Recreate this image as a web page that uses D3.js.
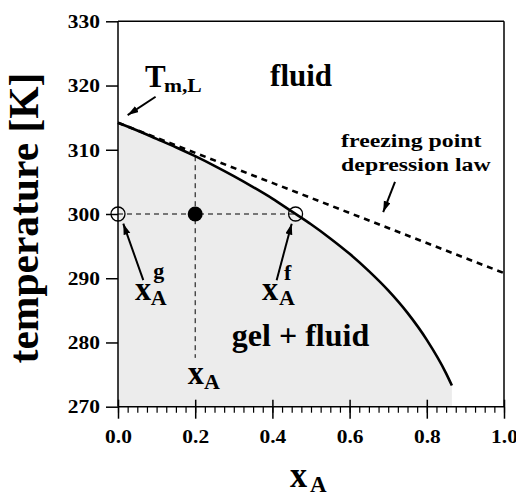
<!DOCTYPE html>
<html><head><meta charset="utf-8">
<script src="https://cdn.jsdelivr.net/npm/d3@7"></script>
<style>
html,body{margin:0;padding:0;background:#fff;}
svg{display:block;}
</style></head><body>
<svg id="chart" width="516" height="494"></svg>
<script>
// Liquidus (fluid boundary): mole fraction of A vs. temperature in K
const liquidusX = [0, 0.05, 0.1, 0.15, 0.2, 0.25, 0.3, 0.35, 0.4, 0.45, 0.5, 0.55, 0.6, 0.65, 0.7, 0.75, 0.8, 0.85, 0.865];
const liquidusT = [314.2, 313.0, 311.7, 310.4, 309.0, 307.5, 305.9, 304.2, 302.4, 300.4, 298.4, 296.2, 293.8, 291.1, 288.1, 284.6, 280.4, 275.2, 273.3];

// Ideal freezing point depression law (straight line)
const depressionX = [0, 1.0];
const depressionT = [314.2, 290.8];

// Tie line at 300 K: gel composition, overall composition, fluid composition
const tieT = 300;
const tieX = [0, 0.2, 0.46];
// Vertical guide at the overall composition
const guideX = 0.2;
const guideT = [309.0, 277.6];

// Axis ticks
const xTicks = [0, 0.2, 0.4, 0.6, 0.8, 1.0];
const xMinorTicks = d3.range(0, 41).map(i => i * 0.025);
const yTicks = [270, 280, 290, 300, 310, 320, 330];

const SERIF = '"Liberation Serif","Times New Roman",serif';
const svg = d3.select("#chart").attr("font-family", SERIF).attr("font-weight", "bold");

const x = d3.scaleLinear().domain([0, 1]).range([118, 504]);
const y = d3.scaleLinear().domain([270, 330]).range([406.7, 21.3]);

// two-phase region shading
const liq = liquidusX.map((v, i) => [v, liquidusT[i]]);
svg.append("path")
  .datum(liq)
  .attr("fill", "#ececec")
  .attr("d", d3.area().x(d => x(d[0])).y0(y(270)).y1(d => y(d[1])).curve(d3.curveMonotoneX));

// freezing point depression line
svg.append("path")
  .datum(depressionX.map((v, i) => [v, depressionT[i]]))
  .attr("fill", "none").attr("stroke", "#000").attr("stroke-width", 2.6)
  .attr("stroke-dasharray", "6,5")
  .attr("d", d3.line().x(d => x(d[0])).y(d => y(d[1])));

// liquidus curve
svg.append("path")
  .datum(liq)
  .attr("fill", "none").attr("stroke", "#000").attr("stroke-width", 2.6)
  .attr("d", d3.line().x(d => x(d[0])).y(d => y(d[1])).curve(d3.curveMonotoneX));

// tie line and guide
svg.append("line")
  .attr("x1", x(tieX[0])).attr("x2", x(tieX[2])).attr("y1", y(tieT)).attr("y2", y(tieT))
  .attr("stroke", "#000").attr("stroke-width", 1).attr("stroke-dasharray", "5,4");
svg.append("line")
  .attr("x1", x(guideX)).attr("x2", x(guideX)).attr("y1", y(guideT[0])).attr("y2", y(guideT[1]))
  .attr("stroke", "#000").attr("stroke-width", 1).attr("stroke-dasharray", "5,4");

// frame
const frame = svg.append("g").attr("stroke", "#000").attr("stroke-width", 1.5);
frame.append("line").attr("x1", x(0)).attr("x2", x(0)).attr("y1", y(330)).attr("y2", y(270));
frame.append("line").attr("x1", x(1)).attr("x2", x(1)).attr("y1", y(330)).attr("y2", y(270));
frame.append("line").attr("x1", x(0)).attr("x2", x(1)).attr("y1", y(330)).attr("y2", y(330));
frame.append("line").attr("x1", x(0)).attr("x2", x(1)).attr("y1", y(270)).attr("y2", y(270));

// y axis
const gy = svg.append("g").attr("transform", `translate(${x(0)},0)`)
  .call(d3.axisLeft(y).tickValues(yTicks).tickSize(12).tickPadding(6).tickFormat(d3.format("d")));
gy.attr("font-family", SERIF).attr("font-size", 19.5).attr("font-weight", "bold");
gy.select(".domain").remove();
gy.selectAll(".tick line").attr("stroke-width", 1.5);
gy.selectAll(".tick text").attr("x", null).attr("fill", "#000")
  .attr("transform", "translate(-18,0) scale(1.1,1)");

// x axis: minor ticks (pointing down, outside the frame)
const gxm = svg.append("g").attr("transform", `translate(0,${y(270)})`)
  .call(d3.axisBottom(x).tickValues(xMinorTicks).tickSize(6).tickFormat(""));
gxm.select(".domain").remove();
gxm.selectAll(".tick line").attr("stroke-width", 1.2);

// x axis: major ticks crossing the axis, with labels
const gx = svg.append("g").attr("transform", `translate(0,${y(270)})`)
  .call(d3.axisBottom(x).tickValues(xTicks).tickSize(12).tickPadding(10.5).tickFormat(d3.format(".1f")));
gx.attr("font-family", SERIF).attr("font-size", 19.5).attr("font-weight", "bold");
gx.select(".domain").remove();
gx.selectAll(".tick line").attr("y1", -7).attr("stroke-width", 1.5);
gx.selectAll(".tick text").attr("fill", "#000")
  .attr("transform", function() { return `translate(0,${d3.select(this).attr("y")}) scale(1.1,1)`; })
  .attr("y", 0);

// composition markers
svg.append("circle").attr("cx", x(tieX[0])).attr("cy", y(tieT)).attr("r", 7)
  .attr("fill", "none").attr("stroke", "#000").attr("stroke-width", 1.3);
svg.append("circle").attr("cx", x(tieX[2])).attr("cy", y(tieT)).attr("r", 7)
  .attr("fill", "none").attr("stroke", "#000").attr("stroke-width", 1.3);
svg.append("circle").attr("cx", x(tieX[1])).attr("cy", y(tieT)).attr("r", 7.5)
  .attr("fill", "#000");

// arrows
svg.append("defs").append("marker")
  .attr("id", "head").attr("markerUnits", "userSpaceOnUse")
  .attr("markerWidth", 12).attr("markerHeight", 8).attr("refX", 11).attr("refY", 3.5)
  .attr("orient", "auto")
  .append("path").attr("d", "M0,0 L11,3.5 L0,7 Z").attr("fill", "#000");

const arrows = [
  [[0.0974, 318.25], [0.025, 315.4]],
  [[0.0655, 289.7], [0.0137, 298.5]],
  [[0.411, 289.7], [0.450, 298.5]],
  [[0.7176, 305.0], [0.687, 300.3]]
];
svg.selectAll("line.arrow").data(arrows).join("line").attr("class", "arrow")
  .attr("x1", d => x(d[0][0])).attr("y1", d => y(d[0][1]))
  .attr("x2", d => x(d[1][0])).attr("y2", d => y(d[1][1]))
  .attr("stroke", "#000").attr("stroke-width", 2).attr("marker-end", "url(#head)");

// text helper
function label(px, py, s, size, sx) {
  return svg.append("text")
    .attr("transform", `translate(${px},${py}) scale(${sx},1)`)
    .attr("font-size", size).attr("fill", "#000").text(s);
}

// region labels
label(x(0.394), y(319.94), "fluid", 31, 1);
label(x(0.295), y(279.5), "gel + fluid", 32, 1);
label(x(0.578), y(310.43), "freezing point", 19.5, 1.22);
label(x(0.578), y(306.7), "depression law", 19.5, 1.22);

// T_m,L
label(x(0.070), y(319.77), "T", 31, 1);
label(x(0.119), y(319.0), "m,L", 18, 1.2);

// x_A^g
label(x(0.044), y(286.6), "x", 34, 0.95);
label(x(0.085), y(285.8), "A", 22, 1);
label(x(0.091), y(290.1), "g", 22, 1);

// x_A^f
label(x(0.373), y(286.6), "x", 34, 0.95);
label(x(0.417), y(285.8), "A", 22, 1);
label(x(0.430), y(289.8), "f", 22, 1);

// x_A (overall composition)
label(x(0.181), y(273.6), "x", 34, 0.95);
label(x(0.223), y(272.7), "A", 22, 1);

// axis titles
label(290, 487, "x", 36, 0.95);
label(310, 492, "A", 23, 1);
svg.append("text")
  .attr("transform", "translate(38,218) rotate(-90)")
  .attr("text-anchor", "middle").attr("font-size", 41.5).attr("fill", "#000")
  .text("temperature [K]");
</script>
</body></html>
